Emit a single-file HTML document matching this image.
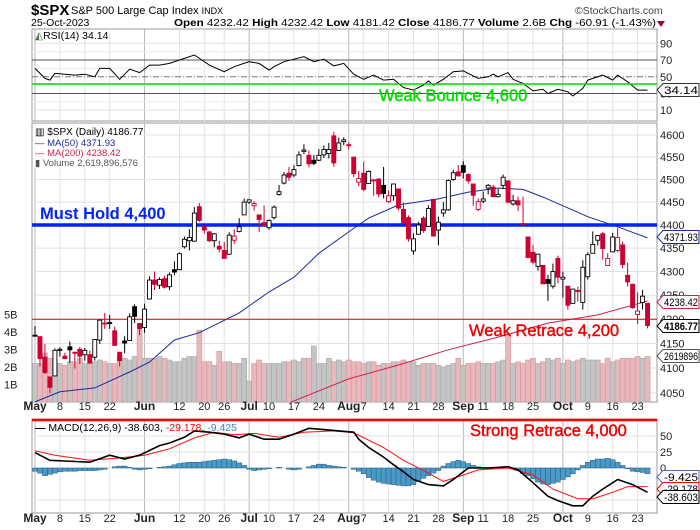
<!DOCTYPE html>
<html><head><meta charset="utf-8"><style>
html,body{margin:0;padding:0;background:#fff;}
svg{display:block;font-family:"Liberation Sans",Arial,sans-serif;}
</style></head><body>
<svg id="c" width="700" height="530" viewBox="0 0 700 530" xmlns="http://www.w3.org/2000/svg">
<defs>
<clipPath id="mainClip"><rect x="32" y="123" width="625" height="279"/></clipPath>
<clipPath id="rsiClip"><rect x="32" y="29" width="625" height="92"/></clipPath>
<clipPath id="macdClip"><rect x="32" y="419" width="625" height="94"/></clipPath>
</defs>
<g id="hdr">
<text x="31" y="15" font-size="15" font-weight="bold">$SPX</text>
<text x="71" y="14" font-size="11">S&amp;P 500 Large Cap Index <tspan font-size="9">INDX</tspan></text>
<text x="575" y="14" font-size="10.5" fill="#444">©StockCharts.com</text>
<text x="31" y="26" font-size="10.5">25-Oct-2023</text>
<text x="174" y="26" font-size="10.5" textLength="482" lengthAdjust="spacingAndGlyphs"><tspan font-weight="bold">Open</tspan> 4232.42 <tspan font-weight="bold">High</tspan> 4232.42 <tspan font-weight="bold">Low</tspan> 4181.42 <tspan font-weight="bold">Close</tspan> 4186.77 <tspan font-weight="bold">Volume</tspan> 2.6B <tspan font-weight="bold">Chg</tspan> -60.91 (-1.43%)</text>
<path d="M657,21 L665,21 L661,27 Z" fill="#a00030"/>
</g>
</svg>
<script>
// ---------- DATA ----------
const opens=[4166,4164,4122,4082,4084,4136,4124,4143,4132,4138,4127,4127,4122,4157,4191,4191,4176,4132,4155,4156,4226,4191,
4183,4242,4282,4271,4285,4268,4304,4304,4353,4366,4365,4440,4397,4385,4366,4354,4345,4337,4367,4386,4422,
4450,4442,4422,4405,4394,4416,4467,4492,4514,4510,4531,4563,4554,4543,4543,4555,4558,4598,4565,4585,
4578,4550,4494,4514,4491,4498,4501,4487,4451,4464,4479,4434,4416,4344,4380,4415,4397,4456,4389,4426,4433,4500,4517,
4531,4511,4490,4434,4452,4481,4483,4462,4487,4497,4446,4453,4403,4374,4341,4311,4313,4283,4269,4328,
4284,4269,4233,4260,4235,4289,4339,4367,4381,4313,4342,4345,4357,4292,4273,4210,4235,4233];
const highs=[4186,4164,4149,4083,4140,4142,4131,4154,4133,4143,4141,4135,4159,4199,4213,4209,4185,4133,4165,4212,4231,4192,
4232,4290,4300,4288,4291,4298,4322,4341,4375,4391,4439,4448,4397,4387,4382,4366,4363,4384,4391,4415,4458,
4456,4452,4422,4443,4412,4443,4488,4517,4528,4532,4563,4579,4565,4555,4568,4576,4582,4607,4594,4595,
4584,4550,4519,4540,4520,4501,4503,4528,4476,4490,4479,4449,4421,4382,4407,4419,4443,4457,4418,4450,4500,4522,4532,
4541,4514,4490,4458,4473,4490,4488,4479,4511,4497,4466,4462,4462,4375,4357,4338,4313,4293,4317,4334,
4300,4269,4263,4268,4324,4341,4386,4378,4385,4339,4383,4394,4364,4319,4274,4256,4261,4233];
const lows=[4164,4103,4088,4049,4084,4123,4119,4110,4099,4108,4115,4110,4115,4149,4180,4180,4146,4103,4130,4156,4192,4167,
4172,4241,4261,4263,4264,4261,4292,4303,4349,4345,4364,4407,4381,4363,4352,4341,4328,4336,4359,4384,4422,
4446,4431,4385,4398,4390,4412,4464,4489,4497,4505,4529,4557,4527,4532,4541,4548,4547,4528,4564,4577,
4567,4505,4485,4474,4491,4464,4461,4458,4448,4453,4432,4403,4364,4336,4380,4383,4396,4375,4356,4418,4431,4497,4507,
4502,4491,4442,4430,4448,4467,4461,4460,4479,4447,4442,4430,4402,4328,4315,4302,4274,4238,4264,4275,
4245,4220,4236,4237,4220,4283,4339,4356,4325,4322,4342,4341,4307,4268,4222,4190,4220,4181];
const closes=[4167,4119,4091,4061,4136,4138,4119,4137,4130,4124,4136,4110,4158,4198,4192,4193,4146,4115,4151,4205,4206,4180,
4221,4282,4273,4283,4267,4293,4299,4338,4369,4373,4426,4410,4389,4366,4381,4348,4328,4378,4376,4396,4450,
4455,4447,4412,4399,4410,4439,4473,4510,4505,4522,4555,4566,4535,4536,4554,4567,4567,4537,4582,4589,
4577,4513,4502,4478,4518,4499,4468,4469,4464,4490,4437,4404,4370,4370,4400,4388,4436,4376,4406,4433,4498,4515,4508,
4516,4497,4465,4451,4457,4487,4462,4467,4505,4450,4453,4444,4402,4330,4320,4337,4274,4275,4300,4288,
4288,4229,4263,4258,4309,4336,4358,4377,4349,4328,4374,4373,4315,4278,4224,4217,4248,4187];
const volumes=[2.2,2.2,2.8,2.5,2.4,2.2,2.1,2.3,2.3,2.5,2.2,2.2,2.3,2.4,2.3,2.2,2.2,2.6,2.5,2.4,2.6,4.1,
2.5,2.5,2.5,2.6,2.5,2.4,2.3,2.3,2.5,2.6,2.6,4.1,2.3,2.3,2.1,2.9,2.3,2.3,2.2,2.2,2.5,
1.2,2.2,2.4,2.2,2.2,2.2,2.2,2.3,2.3,2.4,2.3,2.5,2.5,3.2,2.2,2.2,2.5,2.3,2.4,2.3,
2.4,2.3,2.3,2.2,2.3,2.3,2.1,2.2,2.2,2.3,2.3,2.4,2.3,2.3,2.1,2.2,2.2,2.2,2.1,2.0,2.1,2.2,2.5,
2.1,2.2,2.2,2.3,2.2,2.2,2.2,2.3,2.4,3.9,2.2,2.3,2.2,2.4,2.5,2.2,2.3,2.5,2.4,2.5,
2.2,2.4,2.3,2.4,2.5,2.4,2.4,2.4,2.2,2.5,2.3,2.4,2.5,2.5,2.5,2.6,2.5,2.6];
const ma50Idx=[0,5,12,19,23,28,33,41,47,52,57,63,67,73,81,87,93,98,102,111,117,123];
const ma50Val=[4032,4052,4060,4092,4112,4157,4172,4213,4257,4288,4339,4385,4415,4444,4457,4472,4481,4478,4461,4418,4396,4372];
const ma200Idx=[51,63,73,83,93,103,113,123];
const ma200Val=[4030,4078,4106,4137,4163,4192,4209,4238];
const rsiIdx=[0,2,3,4,6,8,10,12,13,15,17,19,21,23,25,27,30,32,35,38,40,43,45,47,48,50,54,56,58,60,62,64,66,68,70,72,74,76,78,79,80,82,84,86,89,91,92,93,95,96,98,100,102,103,105,107,108,110,111,114,116,117,119,121,123];
const rsiVal=[60,48,46,54,53,52,53,50,60,60,47,59,55,64,64,66,72,76,64,56,62,68,66,58,62,68,74,68,71,63,66,53,47,52,46,47,37,34,40,45,40,47,56,57,48,50,53,50,55,47,42,33,35,30,35,32,27,36,46,52,46,52,44,34,34];
const macdIdx=[0,3,6,11,15,18,21,25,27,30,32,35,38,41,43,46,49,52,55,58,61,64,65,67,70,72,74,76,79,82,84,87,91,95,97,100,103,105,108,110,112,114,117,120,123];
const macdVal=[24,12,11,9,20,14,20,35,39,48,58,56,53,47,53,45,45,53,62,60,58,56,45,32,17,5,-6,-18,-26,-28,-18,0,0,2,-3,-23,-44,-51,-59,-59,-44,-33,-18,-26,-38];
const sigIdx=[0,4,11,16,22,27,32,36,40,44,49,54,60,64,70,74,79,82,86,89,95,100,104,109,112,116,119,123];
const sigVal=[27,20,12,15,20,30,47,56,52,54,48,56,58,55,32,12,-8,-21,-11,-3,0,-11,-33,-48,-48,-38,-29,-29];
const histVal=[-5,-8,-12,-10,-8,-6,-5,-5,-5,-4,-4,-4,-4,-3,-2,0,2,3,3,1,-2,-3,-2,-1,0,1,2,3,5,7,8,9,9,9,10,11,12,13,14,13,11,
8,4,-2,-4,-3,-2,-1,0,1,0,-2,-3,-2,0,2,4,6,6,4,3,2,1,0,-2,-5,-9,-15,-19,-22,-24,-25,-26,-27,-28,-28,-26,-21,-16,-12,-8,-4,3,7,
10,12,10,7,4,2,1,1,0,1,1,0,-1,-4,-9,-12,-17,-22,-25,-26,-24,-22,-18,-14,-9,-3,4,9,12,14,14,15,13,9,4,-1,-5,-6,-7,-9];
const priceTicks=[4050,4100,4150,4200,4250,4300,4350,4400,4450,4500,4550,4600];
const volTicks=[1,2,3,4,5];
const rsiTicks=[10,30,50,70,90];
const macdTicks=[50,25,0,-50];
const dateIdx=[0,5,10,15,22,29,34,38,43,47,52,57,63,66,71,76,81,86,90,95,100,106,111,116,121];
const dateLbl=["May","8","15","22","Jun","12","20","26","Jul","10","17","24","Aug","7","14","21","28","Sep","11","18","25","Oct","9","16","23"];

// ---------- AXES ----------
const L=32,R=657;
function xAt(i){return 35+i*4.98;}
function yP(p){return 225-2025*Math.log(p/4400);}
function yV(v){return 402-17.5*v;}
function yR(r){return 118.5-0.835*r;}
function yM(m){return 468-0.64*m;}
const NS="http://www.w3.org/2000/svg";
const svg=document.getElementById('c');
function mk(tag,attrs,parent){const e=document.createElementNS(NS,tag);for(const k in attrs)e.setAttribute(k,attrs[k]);(parent||svg).appendChild(e);return e;}
const isMonth=s=>isNaN(+s);

function panel(name,y0,y1){
  const g=mk('g',{});
  
  
  const bg=mk('rect',{x:L,y:y0,width:R-L,height:y1-y0,fill:'#fff',stroke:'#999','stroke-width':1},g);
  
  
  dateIdx.forEach((d,k)=>{
    const ln=mk('line',{x1:xAt(d),x2:xAt(d),y1:y0,y2:y1,stroke:isMonth(dateLbl[k])?'#b8b8b8':'#e2e2e2','stroke-width':1},g);
    
    
  });
  return g;
}
const gR=panel('rsi-panel',29,121);
const gM=panel('price-panel',123,402);
const gD=panel('macd-panel',419,513);

priceTicks.forEach(p=>{
  const y=yP(p);
  const ln=mk('line',{x1:L,x2:R,y1:y,y2:y,stroke:'#e2e2e2'},gM);
  
  
  const t=mk('text',{x:660,y:y+4,'font-size':11,fill:'#222'});
  t.textContent=p;
  
  
});
volTicks.forEach(v=>{
  const t=mk('text',{x:4,y:yV(v)+4,'font-size':11,fill:'#222'});
  t.textContent=v+'B';
  
  
});
const gVol=mk('g',{'clip-path':'url(#mainClip)'});


volumes.forEach((v,i)=>{
  const down=i>0&&closes[i]<closes[i-1];
  const y=yV(v);
  const b=mk('rect',{x:xAt(i)-2.5,y:y,width:5,height:402-y,fill:down?'#e8b8bc':'#c4c4c4',stroke:down?'#d6949a':'#a8a8a8','stroke-width':0.6},gVol);
  
  
});
function poly(idx,val,yf,color,w,clip,name){
  const pts=idx.map((d,k)=>xAt(d).toFixed(1)+','+yf(val[k]).toFixed(1)).join(' ');
  const p=mk('polyline',{points:pts,fill:'none',stroke:color,'stroke-width':w,'clip-path':clip});
  
  
  return p;
}
poly(ma50Idx,ma50Val,yP,'#1a2aa0',1,'url(#mainClip)','ma50-line');
poly(ma200Idx,ma200Val,yP,'#d0204a',1,'url(#mainClip)','ma200-line');
let hl=mk('line',{x1:L,x2:R,y1:225,y2:225,stroke:'#0022ff','stroke-width':3.5});


hl=mk('line',{x1:L,x2:R,y1:yP(4200),y2:yP(4200),stroke:'#e00000','stroke-width':1});


const gC=mk('g',{'clip-path':'url(#mainClip)'});


closes.forEach((c,i)=>{
  const o=opens[i],x=xAt(i);
  const col=(i>0&&c<closes[i-1])?'#cc0033':'#000';
  const w=mk('line',{x1:x,x2:x,y1:yP(highs[i]),y2:yP(lows[i]),stroke:col,'stroke-width':1},gC);
  
  
  const top=yP(Math.max(o,c)),bot=yP(Math.min(o,c));
  const b=mk('rect',{x:x-2,y:top,width:4,height:Math.max(1,bot-top),fill:c>o?'#fff':col,stroke:col,'stroke-width':0.9},gC);
  
  
});
rsiTicks.forEach(r=>{
  const y=yR(r);
  const ln=mk('line',{x1:L,x2:R,y1:y,y2:y,stroke:(r==30||r==70)?'#555':(r==50?'#777':'#e2e2e2'),'stroke-dasharray':r==50?'6,2,1,2':'none'},gR);
  
  
  const t=mk('text',{x:660,y:y+4,'font-size':11,fill:'#222'});
  t.textContent=r;
  
  
});
[20,40,60,80].forEach(r=>{const ln=mk('line',{x1:L,x2:R,y1:yR(r),y2:yR(r),stroke:'#ececec'},gR);});
poly(rsiIdx,rsiVal,yR,'#000',1,'url(#rsiClip)','rsi-line');
hl=mk('line',{x1:L,x2:R,y1:84,y2:84,stroke:'#00dd00','stroke-width':1.5});


macdTicks.forEach(m=>{
  const y=yM(m);
  const ln=mk('line',{x1:L,x2:R,y1:y,y2:y,stroke:'#e2e2e2'},gD);
  
  
  const t=mk('text',{x:660,y:(m==-50?504:y+4),'font-size':11,fill:'#222'});
  t.textContent=m;
  
  
});
const gH=mk('g',{'clip-path':'url(#macdClip)'});


histVal.forEach((h,i)=>{
  const y0=yM(0),y=yM(h);
  const b=mk('rect',{x:xAt(i)-2.5,y:Math.min(y,y0),width:5,height:Math.abs(y-y0),fill:'#4a9ac8',stroke:'#2a5a80','stroke-width':0.5},gH);
  
  
});
poly(sigIdx,sigVal,yM,'#ff1010',1,'url(#macdClip)','macd-signal-line');
poly(macdIdx,macdVal,yM,'#000',1.6,'url(#macdClip)','macd-line');
hl=mk('line',{x1:L,x2:R,y1:420,y2:420,stroke:'#ff0000','stroke-width':2.5});


[410,522].forEach(yy=>{
  dateIdx.forEach((d,k)=>{
    const s=dateLbl[k];
    const t=mk('text',{x:xAt(d),y:yy,'font-size':isMonth(s)?12:11,'font-weight':isMonth(s)?'bold':'normal','text-anchor':'middle',fill:'#222'});
    t.textContent=s;
    
    
  });
});
function box(y,txt,col,name,bold){
  const g=mk('g',{});
  
  
  mk('path',{d:`M657,${y} L663,${y-6.5} L699,${y-6.5} L699,${y+6.5} L663,${y+6.5} Z`,fill:'#fff',stroke:col,'stroke-width':1},g);
  const t=mk('text',{x:664,y:y+4,'font-size':11,'font-weight':bold?'bold':'normal',fill:'#000',textLength:34,lengthAdjust:'spacingAndGlyphs'},g);
  t.textContent=txt;
}
box(237,'4371.93','#1a2aa0','ma50-value-box');
box(302,'4238.42','#d0204a','ma200-value-box');
box(356,'2619896','#555','volume-value-box');
box(326,'4186.77','#000','close-value-box',true);
box(90,'34.14','#333','rsi-value-box');
box(477,'-9.425','#4a70b0','histogram-value-box');
box(489,'-29.178','#ff0000','signal-value-box');
box(497,'-38.603','#000','macd-value-box');
</script>
<svg style="position:absolute;left:0;top:0" width="700" height="530">
<g font-family="Liberation Sans, Arial, sans-serif">
<rect x="33" y="124" width="110" height="44" fill="#fff" opacity="0.85"/>
<text x="35" y="135" font-size="10"><tspan fill="#000">▥ $SPX (Daily) 4186.77</tspan></text>
<text x="35" y="146" font-size="9.5" fill="#1a2aa0">— MA(50) 4371.93</text>
<text x="35" y="156" font-size="9.5" fill="#d0204a">— MA(200) 4238.42</text>
<text x="35" y="166" font-size="9.5" fill="#555">▮ Volume 2,619,896,576</text>
<text x="40" y="219" font-size="16.5" font-weight="bold" fill="#0022ff">Must Hold 4,400</text>
<text x="469" y="336" font-size="16.5" fill="#ee0000" stroke="#ee0000" stroke-width="0.4">Weak Retrace 4,200</text>
<text x="379" y="101" font-size="16.5" fill="#00dd00" stroke="#00dd00" stroke-width="0.4">Weak Bounce 4,600</text>
<text x="470" y="436" font-size="16.5" fill="#ee0000" stroke="#ee0000" stroke-width="0.4">Strong Retrace 4,000</text>
<text x="35" y="39" font-size="10.5"><tspan fill="#4a7a4a">◭</tspan>RSI(14) 34.14</text>
<text x="35" y="431" font-size="10.5"><tspan font-weight="bold">—</tspan> MACD(12,26,9) -38.603, <tspan fill="#ff0000">-29.178</tspan>, <tspan fill="#3a8ac0">-9.425</tspan></text>
</g>
</svg>
</body></html>
